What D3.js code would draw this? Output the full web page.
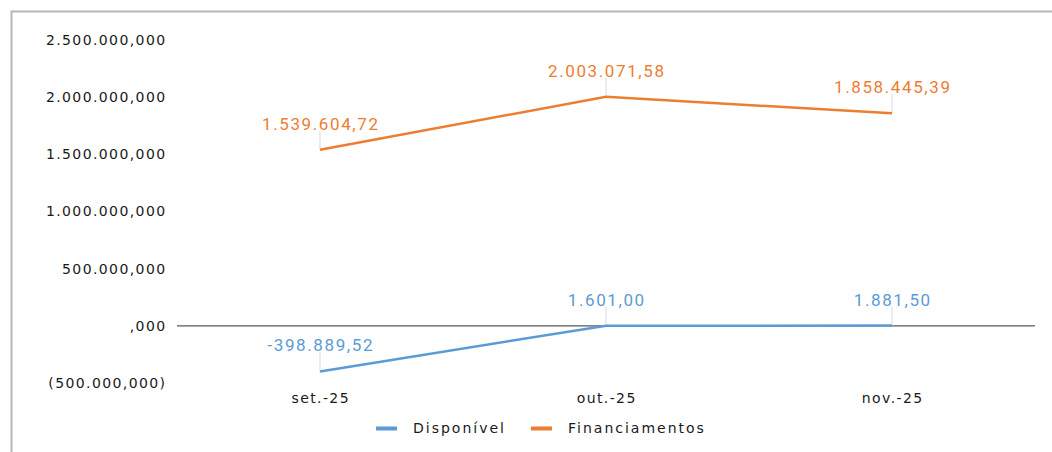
<!DOCTYPE html>
<html>
<head>
<meta charset="utf-8">
<script src="https://cdn.jsdelivr.net/npm/d3@7"></script>
<style>
  body { margin: 0; background: #fff; }
  #chart { width: 1052px; height: 452px; }
</style>
</head>
<body>
<div id="chart"></div>
<script>
// chart data
const months = ["set.-25", "out.-25", "nov.-25"];
const disponivel = [-398889.52, 1601.00, 1881.50];
const financiamentos = [1539604.72, 2003071.58, 1858445.39];
const yTicks = [-500000, 0, 500000, 1000000, 1500000, 2000000, 2500000];
const seriesNames = ["Disponível", "Financiamentos"];

const colors = {"Disponível": "#5b9bd5", "Financiamentos": "#ed7d31"};

let width = 1052, height = 452;
let margin = {top: 40, right: 17, bottom: 69, left: 177};

let svg = d3.select("#chart").append("svg")
    .attr("width", width)
    .attr("height", height);

// outer frame (top + left edge only visible)
svg.append("path")
    .attr("d", "M11.5,452 V11.5 H1052")
    .attr("fill", "none")
    .attr("stroke", "#b8b8b8")
    .attr("stroke-width", 2);

let ptBR = d3.formatLocale({decimal: ",", thousands: ".", grouping: [3], currency: ["R$", ""], minus: "-"});
let fmtAxis = ptBR.format(",.3f");
let fmtLabel = ptBR.format(",.2f");

let x = d3.scaleBand()
    .domain(months)
    .range([margin.left, width - margin.right]);

let y = d3.scaleLinear()
    .domain([-500000, 2500000])
    .range([height - margin.bottom, margin.top]);

// y tick labels
svg.append("g")
    .selectAll("text")
    .data(yTicks)
    .join("text")
    .attr("x", 166.5)
    .attr("y", d => y(d))
    .attr("dy", "0.35em")
    .attr("text-anchor", "end")
    .attr("font-family", "DejaVu Sans")
    .attr("font-size", 14)
    .attr("letter-spacing", 1.4)
    .attr("fill", "#1a1a1a")
    .text(d => d === 0 ? ",000" : d < 0 ? "(" + fmtAxis(-d) + ")" : fmtAxis(d));

// zero line
svg.append("line")
    .attr("x1", margin.left)
    .attr("x2", width - margin.right)
    .attr("y1", y(0))
    .attr("y2", y(0))
    .attr("stroke", "#595959")
    .attr("stroke-width", 1.2);

// category labels
svg.append("g")
    .selectAll("text")
    .data(months)
    .join("text")
    .attr("x", d => x(d) + x.bandwidth() / 2 + 0.7)
    .attr("y", 398)
    .attr("dy", "0.35em")
    .attr("text-anchor", "middle")
    .attr("font-family", "DejaVu Sans")
    .attr("font-size", 14)
    .attr("letter-spacing", 1.4)
    .attr("fill", "#1a1a1a")
    .text(d => d);

let series = [
    {name: "Disponível", values: disponivel},
    {name: "Financiamentos", values: financiamentos}
];

let line = d3.line()
    .x((d, i) => x(months[i]) + x.bandwidth() / 2)
    .y(d => y(d));

series.forEach(s => {
    let pts = s.values.map((v, i) => ({cx: x(months[i]) + x.bandwidth() / 2, cy: y(v), v: v}));

    // leader lines
    svg.append("g")
        .selectAll("line")
        .data(pts)
        .join("line")
        .attr("x1", d => d.cx)
        .attr("x2", d => d.cx)
        .attr("y1", d => d.cy - 19)
        .attr("y2", d => d.cy)
        .attr("stroke", "#d9d9d9")
        .attr("stroke-width", 1);

    svg.append("path")
        .datum(s.values)
        .attr("d", line)
        .attr("fill", "none")
        .attr("stroke", colors[s.name])
        .attr("stroke-width", 2.5);

    svg.append("g")
        .selectAll("text")
        .data(pts)
        .join("text")
        .attr("x", d => d.cx + 0.8)
        .attr("y", d => d.cy - 26)
        .attr("dy", "0.35em")
        .attr("text-anchor", "middle")
        .attr("font-family", "Roboto")
        .attr("font-size", 17)
        .attr("letter-spacing", 1.6)
        .attr("fill", colors[s.name])
        .text(d => fmtLabel(d.v));
});

// legend
let legendX = [376, 531];
let legend = svg.append("g")
    .selectAll("g")
    .data(seriesNames)
    .join("g")
    .attr("transform", (d, i) => "translate(" + legendX[i] + ",428.5)");

legend.append("rect")
    .attr("x", 0)
    .attr("y", -2)
    .attr("width", 21)
    .attr("height", 4)
    .attr("fill", d => colors[d]);

legend.append("text")
    .attr("x", 37)
    .attr("y", 0)
    .attr("dy", "0.35em")
    .attr("font-family", "DejaVu Sans")
    .attr("font-size", 14)
    .attr("letter-spacing", 2)
    .attr("fill", "#1a1a1a")
    .text(d => d);
</script>
</body>
</html>
